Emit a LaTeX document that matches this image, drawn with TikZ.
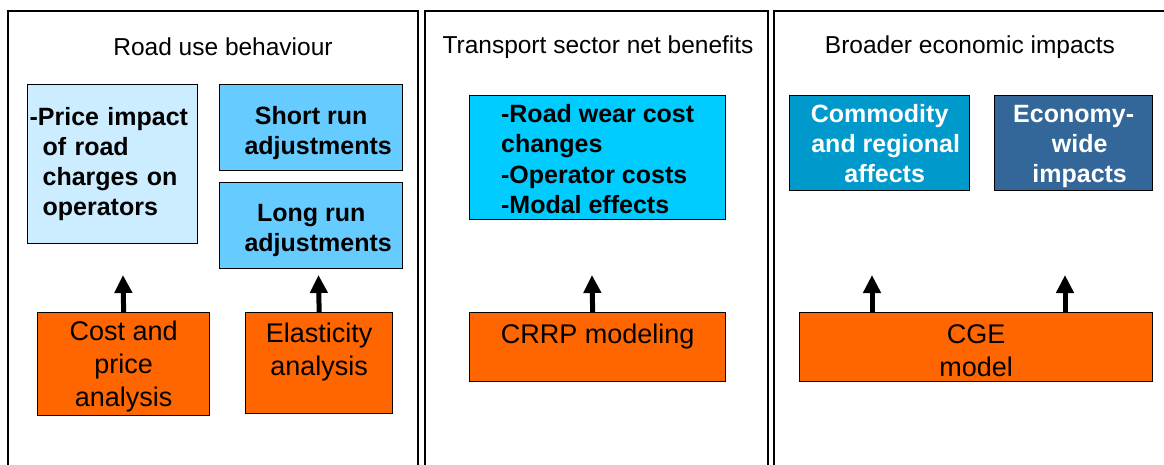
\documentclass[tikz,border=0pt]{standalone}
\usepackage{fontspec}
\setmainfont{Liberation Sans}
\usetikzlibrary{arrows.meta}
\definecolor{lightblue}{HTML}{CCECFF}
\definecolor{skyblue}{HTML}{66CCFF}
\definecolor{cyanbox}{HTML}{00CCFF}
\definecolor{orangebox}{HTML}{FF6600}
\definecolor{commbox}{HTML}{0099CC}
\definecolor{econbox}{HTML}{336699}
\tikzset{
  panel/.style={line width=2pt, line cap=rect},
  ptitle/.style={font=\fontsize{24.5}{29}\selectfont, inner sep=0pt},
  boxbase/.style={draw=black, line width=1.3pt, inner sep=0pt, anchor=north west},
  bluetxt/.style={boxbase, font=\fontsize{25}{30}\selectfont\bfseries},
  orangetxt/.style={boxbase, fill=orangebox, align=center, font=\fontsize{27}{33}\selectfont},
  arr/.style={line width=5pt, -{Triangle[width=17pt,length=18pt]}},
}
\newcommand{\lift}[1]{\rule{0pt}{#1}}
\begin{document}
\begin{tikzpicture}[x=1pt,y=-1pt]
\useasboundingbox (0,0) rectangle (1164,464);
% panels
\draw[panel] (8,466) -- (8,11) -- (418,11) -- (418,466);
\draw[panel] (425,466) -- (425,11) -- (768,11) -- (768,466);
\draw[panel] (774,466) -- (774,11) -- (1166,11);
% titles
\node[ptitle] (t1) at (223,47) {Road use behaviour};
\node[ptitle] (t2) at (598,47) {Transport sector net benefits};
\node[ptitle] (t3) at (970,47) {Broader economic impacts};
% panel 1
\node[bluetxt, fill=lightblue, minimum width=170pt, minimum height=159pt,
      text width=166pt, inner xsep=2pt, align=left] (price) at (27,84)
  {-Price impact\\\hspace*{13pt}of road\\\hspace*{13pt}charges on\\\hspace*{13pt}operators};
\node[bluetxt, fill=skyblue, minimum width=183pt, minimum height=86pt, align=center] (short) at (219,84)
  {\lift{28pt}Short run\\\hspace*{14pt}adjustments};
\node[bluetxt, fill=skyblue, minimum width=183pt, minimum height=86pt, align=center] (long) at (219,182)
  {\lift{26pt}Long run\\\hspace*{14pt}adjustments};
\node[orangetxt, minimum width=172pt, minimum height=103pt] (cost) at (37,312)
  {\lift{25pt}Cost and\\price\\analysis};
\node[orangetxt, minimum width=147pt, minimum height=101pt] (elast) at (245,312)
  {\lift{25pt}Elasticity\\analysis\\\mbox{}};
\coordinate (a1) at (123,275);
\coordinate (a2) at (318.5,275);
\draw[arr] (cost.north) -- (a1);
\draw[arr] (elast.north) -- (a2);
% panel 2
\node[bluetxt, fill=cyanbox, minimum width=256pt, minimum height=124pt, align=left] (trans) at (469,95)
  {\lift{21pt}-Road wear cost\\changes\\[1pt]-Operator costs\\-Modal effects};
\node[orangetxt, minimum width=256pt, minimum height=69pt] (crrp) at (469,312)
  {\lift{25pt}CRRP modeling\\\mbox{}};
\coordinate (a3) at (592,275);
\draw[arr] ([xshift=-5pt]crrp.north) -- (a3);
% panel 3
\node[bluetxt, fill=commbox, text=white, minimum width=180pt, minimum height=95pt, align=center] (comm) at (789,95)
  {Commodity\\\hspace*{12pt}and regional\\\hspace*{10pt}affects};
\node[bluetxt, fill=econbox, text=white, minimum width=158pt, minimum height=95pt, align=center] (econ) at (994,95)
  {\lift{24pt}Economy-\\\hspace*{12pt}wide\\\hspace*{12pt}impacts};
\node[orangetxt, minimum width=353pt, minimum height=69pt] (cge) at (799,312)
  {\lift{25pt}CGE\\model};
\coordinate (a4) at (872,275);
\coordinate (a5) at (1065,275);
\draw[arr] ([xshift=73pt]cge.north west) -- (a4);
\draw[arr] ([xshift=266pt]cge.north west) -- (a5);
\end{tikzpicture}
\end{document}
